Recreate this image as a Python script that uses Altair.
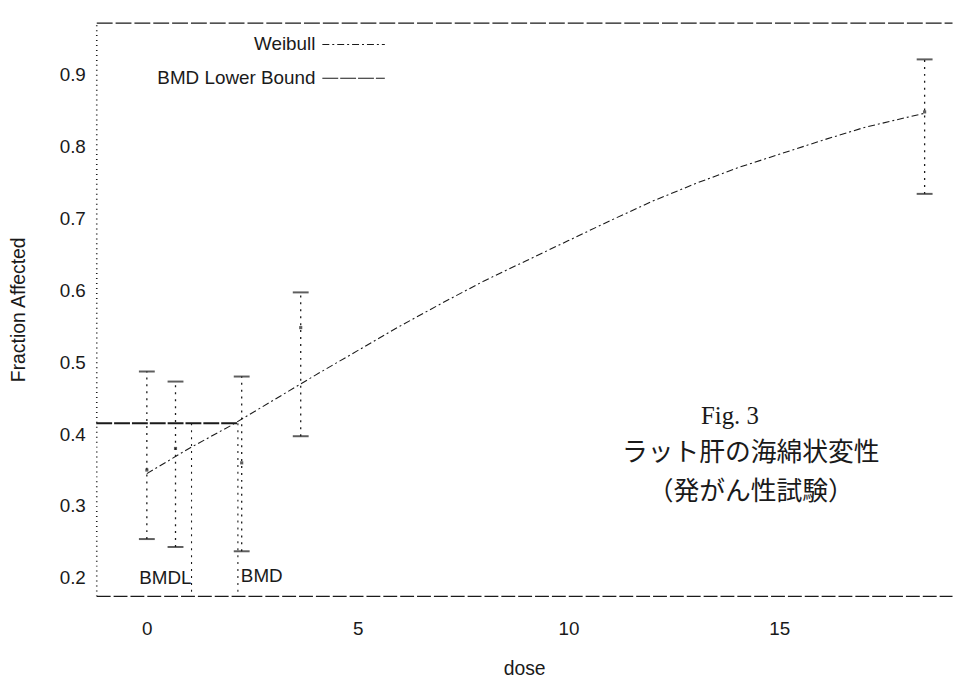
import altair as alt
import pandas as pd

# ---- data ----
curve_dose = [0, 1, 2, 3, 4, 5, 6, 7, 8, 9, 10, 11, 12, 13, 14, 15, 16, 17, 18, 18.45]
curve_frac = [0.345, 0.38, 0.412, 0.447, 0.482, 0.516, 0.55, 0.582, 0.613, 0.641,
              0.669, 0.697, 0.724, 0.748, 0.77, 0.789, 0.808, 0.826, 0.84, 0.846]

group_dose = [0, 0.68, 2.25, 3.65, 18.45]
group_mean = [0.35, 0.38, 0.36, 0.548, 0.848]
group_lower = [0.254, 0.243, 0.237, 0.397, 0.734]
group_upper = [0.487, 0.473, 0.48, 0.597, 0.921]

bmr_level = 0.415
bmdl_dose = 1.06
bmd_dose = 2.16

x_domain = [-1.2, 19.1]
y_domain = [0.175, 0.972]
x_ticks = [0, 5, 10, 15]
y_ticks = [0.2, 0.3, 0.4, 0.5, 0.6, 0.7, 0.8, 0.9]

series_names = ["Weibull", "BMD Lower Bound"]
annot_lines = ["Fig. 3", "ラット肝の海綿状変性", "（発がん性試験）"]

W, H = 863, 578
INK = "#1a1a1a"
SANS = "Liberation Sans"

curve_df = pd.DataFrame({"dose": curve_dose, "frac": curve_frac, "series": series_names[0]})
group_df = pd.DataFrame({"dose": group_dose, "mean": group_mean,
                         "lo": group_lower, "hi": group_upper})
bmr_df = pd.DataFrame({"x0": [x_domain[0]], "x1": [bmd_dose], "y": [bmr_level],
                       "series": [series_names[1]]})
bmd_df = pd.DataFrame({"dose": [bmdl_dose, bmd_dose], "y": [bmr_level, bmr_level],
                       "label": ["BMDL", "BMD"]})
legend_df = pd.DataFrame({"series": series_names})

xs = alt.Scale(domain=x_domain, nice=False, zero=False)
ys = alt.Scale(domain=y_domain, nice=False, zero=False)

y_axis = alt.Axis(values=y_ticks, format=".1f", ticks=False, grid=False,
                  domainDash=[1, 4], domainWidth=1.6, domainColor=INK,
                  labelPadding=11, labelFontSize=19, labelFont=SANS, labelColor=INK,
                  title="Fraction Affected", titleFontSize=19.5, titleFont=SANS,
                  titleFontWeight="normal", titleColor=INK, titlePadding=31)
x_axis = alt.Axis(values=x_ticks, ticks=False, grid=False, domainDash=[14, 3],
                  domainWidth=1.3, domainColor=INK, labelPadding=24,
                  labelFontSize=19, labelFont=SANS, labelColor=INK,
                  title="dose", titleFontSize=19.5, titleFont=SANS,
                  titleFontWeight="normal", titleColor=INK, titlePadding=21)
top_axis = alt.Axis(orient="top", labels=False, ticks=False, grid=False, title=None,
                    domainDash=[16, 3], domainWidth=1.3, domainColor=INK)

dash_scale = alt.Scale(domain=series_names, range=[[7, 3, 2, 3], [16, 2]])

curve = alt.Chart(curve_df).mark_line(color=INK, strokeWidth=1.1).encode(
    x=alt.X("dose:Q", scale=xs, axis=x_axis),
    y=alt.Y("frac:Q", scale=ys, axis=y_axis),
    strokeDash=alt.StrokeDash("series:N", scale=dash_scale, legend=None),
)

bmr = alt.Chart(bmr_df).mark_rule(color=INK, strokeWidth=2).encode(
    x=alt.X("x0:Q", scale=xs, axis=top_axis),
    x2="x1:Q",
    y=alt.Y("y:Q", scale=ys, axis=y_axis),
    strokeDash=alt.StrokeDash("series:N", scale=dash_scale, legend=None),
)

bars = alt.Chart(group_df).mark_rule(color=INK, strokeWidth=1.3, strokeDash=[2, 5]).encode(
    x=alt.X("dose:Q", scale=xs, axis=None),
    y=alt.Y("lo:Q", scale=ys, axis=y_axis),
    y2="hi:Q",
)
caps_hi = alt.Chart(group_df).mark_tick(color=INK, orient="horizontal", size=16,
                                         thickness=2).encode(
    x=alt.X("dose:Q", scale=xs, axis=None),
    y=alt.Y("hi:Q", scale=ys, axis=y_axis),
)
caps_lo = alt.Chart(group_df).mark_tick(color=INK, orient="horizontal", size=16,
                                         thickness=2).encode(
    x=alt.X("dose:Q", scale=xs, axis=None),
    y=alt.Y("lo:Q", scale=ys, axis=y_axis),
)
means = alt.Chart(group_df).mark_point(color=INK, filled=True, shape="square",
                                        size=10).encode(
    x=alt.X("dose:Q", scale=xs, axis=None),
    y=alt.Y("mean:Q", scale=ys, axis=y_axis),
)

bmd_lines = alt.Chart(bmd_df).mark_rule(color=INK, strokeWidth=1.1,
                                         strokeDash=[2, 5]).encode(
    x=alt.X("dose:Q", scale=xs, axis=None),
    y=alt.Y("y:Q", scale=ys, axis=y_axis),
    y2=alt.value(H),
)
bmd_text_l = alt.Chart(bmd_df[bmd_df["label"] == "BMDL"]).mark_text(
    align="right", baseline="middle", fontSize=19, font=SANS, color=INK).encode(
    x=alt.X("dose:Q", scale=xs, axis=None),
    y=alt.value(H - 18),
    text="label:N",
)
bmd_text_r = alt.Chart(bmd_df[bmd_df["label"] == "BMD"]).mark_text(
    align="left", baseline="middle", fontSize=19, font=SANS, color=INK, dx=3).encode(
    x=alt.X("dose:Q", scale=xs, axis=None),
    y=alt.value(H - 20),
    text="label:N",
)

fig_title = alt.Chart(pd.DataFrame({"t": [annot_lines[0]]})).mark_text(
    align="center", baseline="middle", fontSize=25, font="Liberation Serif",
    color=INK).encode(x=alt.value(639), y=alt.value(397), text="t:N")
jp1 = alt.Chart(pd.DataFrame({"t": [annot_lines[1]]})).mark_text(
    align="center", baseline="middle", fontSize=26, font="Noto Sans CJK JP",
    color=INK).encode(x=alt.value(660), y=alt.value(434), text="t:N")
jp2 = alt.Chart(pd.DataFrame({"t": [annot_lines[2]]})).mark_text(
    align="center", baseline="middle", fontSize=26, font="Noto Sans CJK JP",
    color=INK).encode(x=alt.value(660), y=alt.value(473), text="t:N")

main = alt.layer(
    bmd_lines, bars, caps_hi, caps_lo, means, curve, bmr,
    bmd_text_l, bmd_text_r, fig_title, jp1, jp2,
).resolve_axis(x="independent")

# legend drawn as its own small layer (label left of the line sample)
leg_y = alt.Y("series:N",
              scale=alt.Scale(type="point", domain=series_names, range=[22, 56],
                              padding=0),
              axis=None)
leg_text = alt.Chart(legend_df).mark_text(
    align="right", baseline="middle", fontSize=19, font=SANS, color=INK).encode(
    x=alt.value(221), y=leg_y, text="series:N")
leg_line = alt.Chart(legend_df).mark_rule(color=INK, strokeWidth=1.1).encode(
    x=alt.value(228), x2=alt.value(291), y=leg_y,
    strokeDash=alt.StrokeDash("series:N", scale=dash_scale, legend=None))
legend_layer = alt.layer(leg_text, leg_line)

chart = alt.layer(main, legend_layer).resolve_scale(y="independent").properties(
    width=W, height=H,
    autosize=alt.AutoSizeParams(type="none"),
    padding={"left": 89, "top": 12, "right": 3, "bottom": 82},
    background="white",
).configure_view(stroke=None)

chart.save("out.html", embed_options={"renderer": "svg", "actions": False})
